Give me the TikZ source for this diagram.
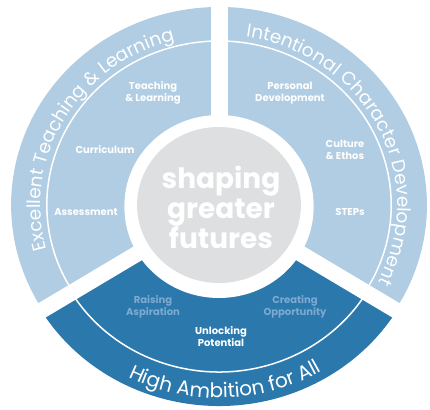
\documentclass[tikz,border=0pt]{standalone}
\usepackage{fontspec}
\setmainfont{Poppins}
\usetikzlibrary{decorations.text}

\definecolor{lightblue}{HTML}{B0CDE3}
\definecolor{darkblue}{HTML}{2B78AD}
\definecolor{fadedblue}{HTML}{7DAAD0}
\definecolor{coregray}{HTML}{DEDFE0}
\newcommand{\bandfont}{\fontsize{18.5}{20}\selectfont}
\newcommand{\basefont}{\fontsize{20}{22}\selectfont}

\begin{document}
\begin{tikzpicture}[x=1pt,y=1pt,
  label/.style={font=\fontsize{10}{12}\selectfont\bfseries, text=white, align=center},
  faded/.style={label, text=fadedblue},
  band/.style={decorate, decoration={text along path, text align=center,
    text color=white, text={#1}}}]
  \useasboundingbox (-219,-204) rectangle (211,205);

  % Three sectors, a bit wider than tall
  \begin{scope}[xscale=1.05]
    \fill[lightblue] (0,0) -- (-32:198) arc (-32:212:198) -- cycle;
    \fill[darkblue] (0,-3) -- ++(212:198) arc (212:328:198) -- cycle;

    % thin rings under the band labels
    \draw[white, line width=1.5] (-32:164) arc (-32:212:164);
    \draw[white, line width=1.5] (0,-3) ++(212:164) arc (212:328:164);

    % gaps between the sectors
    \draw[white, line width=17] (0,0) -- (90:240);
    \draw[white, line width=16] (0,0) -- (212:240);
    \draw[white, line width=16] (0,0) -- (328:240);

    % core
    \fill[white] (0,0) circle (90);
    \fill[white] (0,-3) circle (90);
    \fill[coregray] (0,0) circle (78);
  \end{scope}

  \node[font=\fontsize{28}{30}\selectfont\bfseries, text=white, align=center]
    (core) at (2,-2) {shaping\\greater\\futures};

  % Band labels
  \path[band={|\bandfont|Excellent Teaching {\&} Learning}]
    (210:178.5pt and 170pt) arc[start angle=210, end angle=90, x radius=178.5pt, y radius=170pt];
  \path[band={|\bandfont|Intentional Character Development}]
    (90:178.5pt and 170pt) arc[start angle=90, end angle=-36, x radius=178.5pt, y radius=170pt];
  \path[band={|\basefont|High Ambition for All}]
    (-122.8,-152.7) arc[start angle=232, end angle=312, x radius=199.5pt, y radius=190pt];

  % Excellent Teaching & Learning
  \node[label] (teach) at (-66,112) {Teaching\\\& Learning};
  \node[label] (curric) at (-114,55) {Curriculum};
  \node[label] (assess) at (-133,-7) {Assessment};

  % Intentional Character Development
  \node[label] (personal) at (71,112) {Personal\\Development};
  \node[label] (culture) at (126,55) {Culture\\\& Ethos};
  \node[label] (steps) at (131,-7) {STEPs};

  % High Ambition for All
  \node[faded] (raising) at (-66,-102) {Raising\\Aspiration};
  \node[faded] (creating) at (76,-102) {Creating\\Opportunity};
  \node[label] (unlock) at (2,-132) {Unlocking\\Potential};

\end{tikzpicture}
\end{document}
